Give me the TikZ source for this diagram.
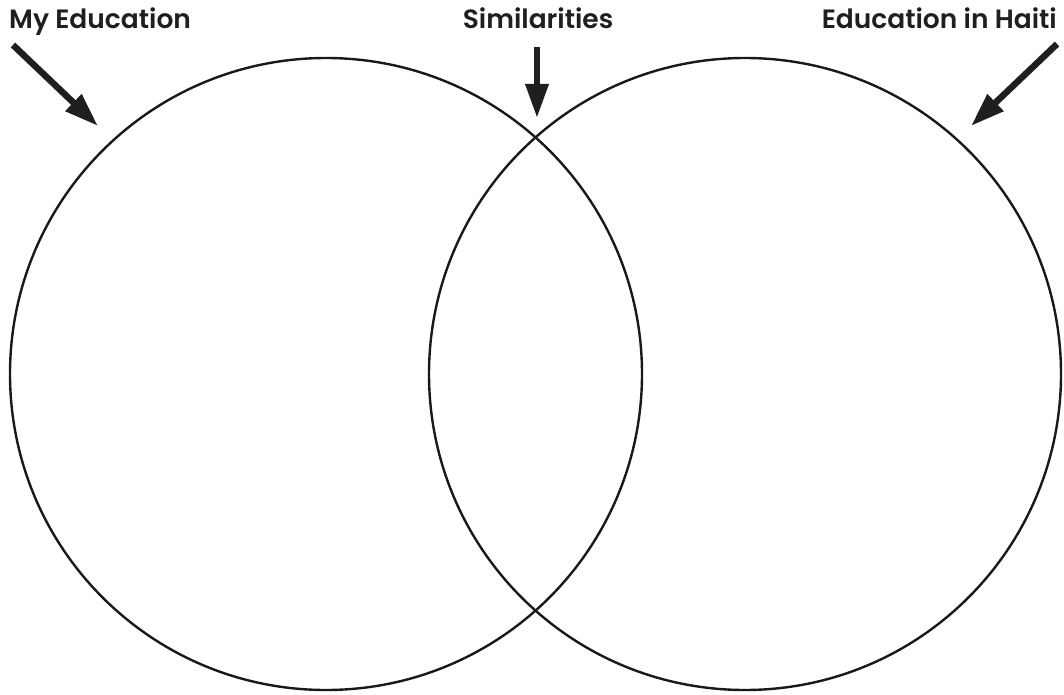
\documentclass[tikz,border=0pt]{standalone}
\usepackage{fontspec}
\IfFontExistsTF{Poppins SemiBold}
  {\setmainfont{Poppins}[BoldFont={Poppins SemiBold}]}
  {\setmainfont{Poppins}}
\usetikzlibrary{arrows.meta}
\begin{document}
\begin{tikzpicture}[x=1pt,y=-1pt,
  ring/.style={circle, draw=black!90, line width=2.4pt, minimum size=632pt, inner sep=0pt},
  label/.style={font=\fontsize{26.5}{30}\selectfont\bfseries, text=black!88, inner sep=0pt, anchor=base},
  pointer/.style={draw=black!88, line width=6.5pt, -{Triangle[length=34pt,width=22pt]}}]
\useasboundingbox (0,0) rectangle (1064,695);
\node[ring] (L) at (326,374) {};
\node[ring] (R) at (745,374) {};
\node[label, anchor=base west] (tl) at (9,29) {My Education};
\node[label] (tm) at (538,29) {Similarities};
\node[label, anchor=base east] (tr) at (1057,29) {Education in Haiti};
\coordinate (a1) at (13,45);
\coordinate (b1) at (98,126);
\coordinate (a2) at (537,47);
\coordinate (b2) at (537,118);
\coordinate (a3) at (1057,44);
\coordinate (b3) at (971,126);
\draw[pointer] (a1) -- (b1);
\draw[pointer] (a2) -- (b2);
\draw[pointer] (a3) -- (b3);
\end{tikzpicture}
\end{document}
